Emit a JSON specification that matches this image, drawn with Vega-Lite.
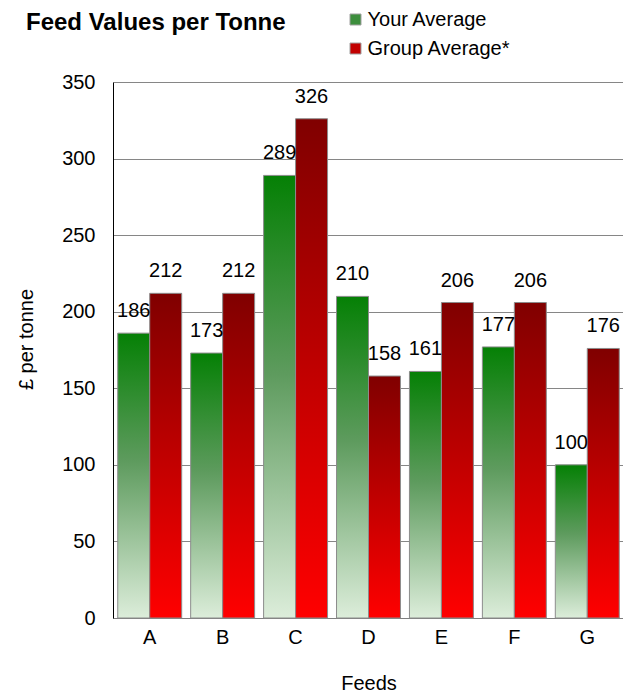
{
  "$schema": "https://vega.github.io/schema/vega-lite/v6.json",
  "width": 511,
  "height": 536,
  "autosize": {"type": "none"},
  "padding": {"left": 113, "top": 82, "right": 0, "bottom": 73},
  "background": "white",
  "config": {"font": "Liberation Sans", "view": {"stroke": null}},
  "title": {
    "text": "Feed Values per Tonne",
    "anchor": "start",
    "frame": "group",
    "fontSize": 24,
    "fontWeight": "bold",
    "font": "Liberation Sans",
    "color": "black",
    "dx": -87,
    "offset": 0,
    "dy": 44,
    "baseline": "alphabetic"
  },
  "data": {
    "values": [
      {"feed": "A", "series": "Your Average", "value": 186},
      {"feed": "A", "series": "Group Average*", "value": 212},
      {"feed": "B", "series": "Your Average", "value": 173},
      {"feed": "B", "series": "Group Average*", "value": 212},
      {"feed": "C", "series": "Your Average", "value": 289},
      {"feed": "C", "series": "Group Average*", "value": 326},
      {"feed": "D", "series": "Your Average", "value": 210},
      {"feed": "D", "series": "Group Average*", "value": 158},
      {"feed": "E", "series": "Your Average", "value": 161},
      {"feed": "E", "series": "Group Average*", "value": 206},
      {"feed": "F", "series": "Your Average", "value": 177},
      {"feed": "F", "series": "Group Average*", "value": 206},
      {"feed": "G", "series": "Your Average", "value": 100},
      {"feed": "G", "series": "Group Average*", "value": 176}
    ]
  },
  "encoding": {
    "x": {
      "field": "feed",
      "type": "nominal",
      "scale": {"paddingInner": 0.123, "paddingOuter": 0.065},
      "axis": {
        "title": "Feeds",
        "labelAngle": 0,
        "ticks": false,
        "tickSize": 0,
        "grid": false,
        "domainColor": "#7f7f7f",
        "labelPadding": 9,
        "labelFontSize": 20,
        "labelColor": "black",
        "labelFont": "Liberation Sans",
        "titleFontSize": 20,
        "titleFontWeight": "normal",
        "titleFont": "Liberation Sans",
        "titleColor": "black",
        "titleY": 71,
        "titleBaseline": "alphabetic"
      }
    },
    "xOffset": {
      "field": "series",
      "type": "nominal",
      "sort": ["Your Average", "Group Average*"],
      "scale": {"paddingInner": 0, "paddingOuter": 0}
    },
    "y": {
      "field": "value",
      "type": "quantitative",
      "scale": {"domain": [0, 350], "nice": false},
      "axis": {
        "title": "£ per tonne",
        "values": [0, 50, 100, 150, 200, 250, 300, 350],
        "grid": true,
        "gridColor": "#868686",
        "gridWidth": 1,
        "domainColor": "black",
        "ticks": false,
        "tickSize": 0,
        "labelPadding": 18,
        "labelFontSize": 20,
        "labelColor": "black",
        "labelFont": "Liberation Sans",
        "titleFontSize": 20,
        "titleFontWeight": "normal",
        "titleFont": "Liberation Sans",
        "titleColor": "black",
        "titleX": -87,
        "titleY": 257,
        "titleAngle": -90,
        "titleAlign": "center",
        "titleBaseline": "middle"
      }
    }
  },
  "layer": [
    {
      "mark": {"type": "bar", "opacity": 0},
      "encoding": {
        "color": {
          "field": "series",
          "type": "nominal",
          "scale": {"domain": ["Your Average", "Group Average*"], "range": ["#3d8e3d", "#c20000"]},
          "legend": {
            "title": null,
            "orient": "none",
            "legendX": 232.5,
            "legendY": -72.5,
            "direction": "vertical",
            "symbolType": "square",
            "symbolSize": 121,
            "symbolOpacity": 1,
            "symbolStrokeWidth": 1,
            "symbolStrokeColor": "#a0a0a0",
            "labelFontSize": 20,
            "labelColor": "black",
            "labelFont": "Liberation Sans",
            "labelOffset": 2,
            "rowPadding": 9,
            "padding": 0
          }
        }
      }
    },
    {
      "mark": {"type": "bar", "stroke": "#8c8c8c", "strokeWidth": 1},
      "encoding": {
        "fill": {
          "condition": {
            "test": "datum.series === 'Your Average'",
            "value": {
              "gradient": "linear",
              "x1": 0, "y1": 0, "x2": 0, "y2": 1,
              "stops": [
                {"offset": 0, "color": "#058005"},
                {"offset": 0.45, "color": "#5e9b5e"},
                {"offset": 1, "color": "#dcedda"}
              ]
            }
          },
          "value": {
            "gradient": "linear",
            "x1": 0, "y1": 0, "x2": 0, "y2": 1,
            "stops": [
              {"offset": 0, "color": "#800000"},
              {"offset": 1, "color": "#ff0000"}
            ]
          }
        }
      }
    },
    {
      "mark": {"type": "text", "dy": -16, "baseline": "alphabetic", "fontSize": 20, "color": "black", "font": "Liberation Sans"},
      "encoding": {
        "text": {"field": "value", "type": "quantitative"}
      }
    }
  ]
}
